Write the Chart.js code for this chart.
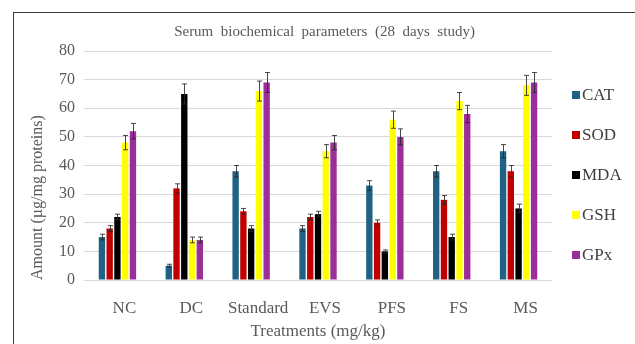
<!DOCTYPE html>
<html>
<head>
<meta charset="utf-8">
<title>Serum biochemical parameters</title>
<script src="https://cdn.jsdelivr.net/npm/chart.js@4.4.1/dist/chart.umd.min.js"></script>
<style>
    body { margin: 0; background: #fff; }
    #wrap { position: relative; width: 635px; height: 344px; overflow: hidden; }
    #frame {
        position: absolute; left: 13px; top: 12px; width: 640px; height: 350px;
        border: 1.5px solid #3a3a3a; box-sizing: border-box;
    }
    #chart { position: absolute; left: 0; top: 0; }
</style>
</head>
<body>
<div id="wrap">
    <div id="frame"></div>
    <canvas id="chart" width="635" height="344"></canvas>
</div>
<script>
// Treatment groups and measured parameters (mean and error)
const treatments = ['NC', 'DC', 'Standard', 'EVS', 'PFS', 'FS', 'MS'];
const yTicks = [0, 10, 20, 30, 40, 50, 60, 70, 80];

const catValues = [15, 5, 38, 18, 33, 38, 45];
const sodValues = [18, 32, 24, 22, 20, 28, 38];
const mdaValues = [22, 65, 18, 23, 10, 15, 25];
const gshValues = [48, 14, 66, 45, 56, 62.5, 68];
const gpxValues = [52, 14, 69, 48, 50, 58, 69];

const catErrors = [1, 0.5, 2, 1, 1.7, 2, 2.3];
const sodErrors = [1, 1.6, 1, 1, 1, 1.5, 2];
const mdaErrors = [1, 3.5, 1, 1, 0.5, 1, 1.5];
const gshErrors = [2.5, 1, 3.5, 2.3, 3, 3, 3.5];
const gpxErrors = [2.7, 1, 3.5, 2.5, 2.8, 3, 3.5];

const serif = '"Liberation Serif", "DejaVu Serif", serif';
const grey = '#595959';

function makeSet(label, data, errors, color) {
    return {
        label: label,
        data: data,
        errors: errors,
        backgroundColor: color,
        borderWidth: 0,
        categoryPercentage: 0.58,
        barPercentage: 0.82
    };
}

// Draws the +/- error whiskers on top of each bar
const errorBars = {
    id: 'errorBars',
    afterDatasetsDraw(chart) {
        const ctx = chart.ctx;
        const y = chart.scales.y;
        ctx.save();
        ctx.strokeStyle = 'rgba(40,40,40,0.85)';
        ctx.lineWidth = 1;
        chart.data.datasets.forEach((ds, i) => {
            const meta = chart.getDatasetMeta(i);
            meta.data.forEach((bar, j) => {
                const v = ds.data[j];
                const e = ds.errors[j];
                const top = y.getPixelForValue(v + e);
                const bot = y.getPixelForValue(v - e);
                const x = Math.round(bar.x) + 0.5;
                ctx.beginPath();
                ctx.moveTo(x, top);
                ctx.lineTo(x, bot);
                ctx.moveTo(x - 2.5, top);
                ctx.lineTo(x + 2.5, top);
                ctx.moveTo(x - 2.5, bot);
                ctx.lineTo(x + 2.5, bot);
                ctx.stroke();
            });
        });
        ctx.restore();
    }
};

// Compact legend on the right: small square followed closely by the name
const sideLegend = {
    id: 'sideLegend',
    afterDraw(chart) {
        const ctx = chart.ctx;
        const left = chart.chartArea.right + 20;
        ctx.save();
        ctx.font = '17px ' + serif;
        ctx.textBaseline = 'middle';
        chart.data.datasets.forEach((ds, i) => {
            const cy = 95 + i * 40;
            ctx.fillStyle = ds.backgroundColor;
            ctx.fillRect(left, cy - 4, 8, 8);
            ctx.fillStyle = '#404040';
            ctx.fillText(ds.label, left + 10, cy + 1);
        });
        ctx.restore();
    }
};

new Chart(document.getElementById('chart'), {
    type: 'bar',
    data: {
        labels: treatments,
        datasets: [
            makeSet('CAT', catValues, catErrors, '#1f6283'),
            makeSet('SOD', sodValues, sodErrors, '#c00000'),
            makeSet('MDA', mdaValues, mdaErrors, '#000000'),
            makeSet('GSH', gshValues, gshErrors, '#ffff00'),
            makeSet('GPx', gpxValues, gpxErrors, '#9c2e9a')
        ]
    },
    options: {
        responsive: false,
        animation: false,
        layout: {
            padding: { left: 14, right: 0, top: 10, bottom: 0 }
        },
        plugins: {
            title: {
                display: true,
                text: 'Serum  biochemical  parameters  (28  days  study)',
                color: grey,
                font: { family: serif, size: 15, weight: 'normal' },
                padding: { top: 13, bottom: 10 }
            },
            legend: { display: false },
            tooltip: { enabled: false }
        },
        scales: {
            x: {
                grid: { display: false },
                border: { display: false },
                ticks: {
                    color: grey,
                    font: { family: serif, size: 17 },
                    padding: 10,
                    labelOffset: 7,
                    maxRotation: 0,
                    minRotation: 0,
                    autoSkip: false
                },
                title: {
                    display: true,
                    text: 'Treatments (mg/kg)',
                    color: grey,
                    font: { family: serif, size: 17 },
                    padding: { top: 0, bottom: 2 }
                },
                afterFit(scale) { scale.height = 64; }
            },
            y: {
                min: 0,
                max: 80,
                afterBuildTicks(scale) {
                    scale.ticks = yTicks.map(v => ({ value: v }));
                },
                grid: { color: '#d9d9d9', lineWidth: 1, drawTicks: false },
                border: { display: false },
                ticks: {
                    color: grey,
                    font: { family: serif, size: 16 },
                    padding: 9
                },
                title: {
                    display: true,
                    text: 'Amount (µg/mg proteins)',
                    align: 'start',
                    color: grey,
                    font: { family: serif, size: 16 },
                    padding: { top: 14, bottom: 0 }
                },
                afterFit(scale) { scale.width = 70; }
            },
            // empty right-hand axis that reserves room for the legend
            side: {
                type: 'linear',
                position: 'right',
                grid: { display: false },
                border: { display: false },
                ticks: { display: false },
                afterFit(scale) { scale.width = 83; }
            }
        }
    },
    plugins: [errorBars, sideLegend]
});
</script>
</body>
</html>
